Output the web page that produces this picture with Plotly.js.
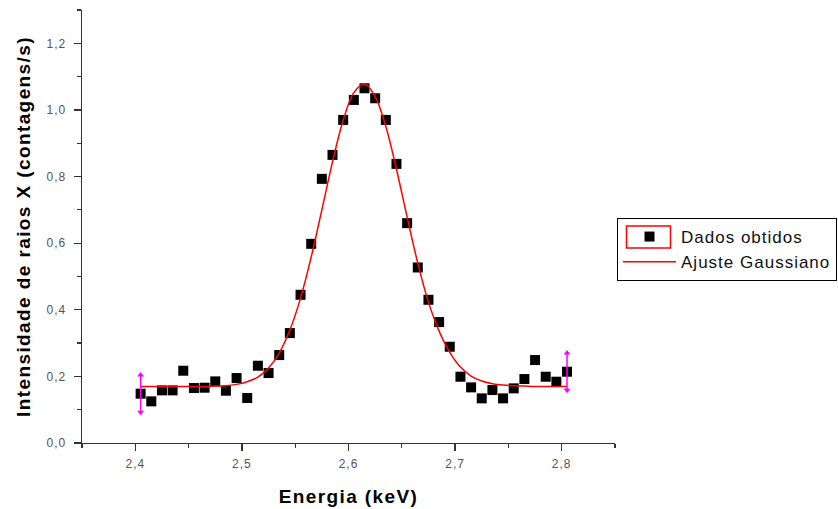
<!DOCTYPE html>
<html>
<head>
<meta charset="utf-8">
<script src="https://cdn.plot.ly/plotly-3.0.1.min.js"></script>
<style>
html,body{margin:0;padding:0;background:#fff;}
#chart{width:838px;height:509px;}
.legendtext{letter-spacing:1px;}
.xtitle,.ytitle{letter-spacing:1.4px;}
.xtick text,.ytick text{letter-spacing:1px;}
</style>
</head>
<body>
<div id="chart"></div>
<script>
// Energy (keV) of each measured point
const energia = [2.405, 2.415, 2.425, 2.435, 2.445, 2.455, 2.465, 2.475, 2.485, 2.495,
                 2.505, 2.515, 2.525, 2.535, 2.545, 2.555, 2.565, 2.575, 2.585, 2.595,
                 2.605, 2.615, 2.625, 2.635, 2.645, 2.655, 2.665, 2.675, 2.685, 2.695,
                 2.705, 2.715, 2.725, 2.735, 2.745, 2.755, 2.765, 2.775, 2.785, 2.795, 2.805];
// Measured intensity (contagens/s)
const dadosObtidos = [0.148, 0.125, 0.158, 0.158, 0.217, 0.165, 0.166, 0.185, 0.157, 0.195,
                      0.135, 0.232, 0.210, 0.264, 0.330, 0.445, 0.598, 0.793, 0.865, 0.970,
                      1.030, 1.065, 1.035, 0.970, 0.838, 0.660, 0.527, 0.430, 0.363, 0.289,
                      0.199, 0.167, 0.134, 0.159, 0.134, 0.164, 0.192, 0.249, 0.199, 0.184, 0.214];
// Gaussian fit curve read at the same energies
const ajusteGaussiano = [0.170, 0.170, 0.170, 0.170, 0.170, 0.170, 0.170, 0.171, 0.172, 0.176,
                         0.184, 0.198, 0.225, 0.270, 0.339, 0.435, 0.558, 0.700, 0.844, 0.969,
                         1.052, 1.078, 1.040, 0.950, 0.822, 0.678, 0.540, 0.423, 0.336, 0.272,
                         0.228, 0.201, 0.186, 0.178, 0.174, 0.172, 0.171, 0.170, 0.170, 0.170, 0.170];
const legendNames = ["Dados obtidos", "Ajuste Gaussiano"];
const xTitle = "Energia (keV)";
const yTitle = "Intensidade de raios X (contagens/s)";

const traces = [
  {x: energia, y: dadosObtidos, type: "scatter", mode: "markers", name: legendNames[0],
   marker: {symbol: "square", size: 10, color: "#000000"}},
  {x: energia, y: ajusteGaussiano, type: "scatter", mode: "lines", name: legendNames[1],
   line: {color: "#ff0000", width: 1.5, shape: "spline"}}
];
// Range markers (magenta double arrows) at the first and last data points
const half = 0.056;
[0, energia.length - 1].forEach(i => {
  traces.push({x: [energia[i], energia[i]], y: [dadosObtidos[i] - half, dadosObtidos[i] + half],
    type: "scatter", mode: "lines+markers", showlegend: false, hoverinfo: "skip",
    line: {color: "#ff00ff", width: 1.5},
    marker: {symbol: ["triangle-down", "triangle-up"], size: 6, color: "#ff00ff"}});
});

const tickFont = {family: "Liberation Sans, Arial, sans-serif", size: 12, color: "#555555"};
const titleFont = {family: "Liberation Sans, Arial, sans-serif", size: 19, color: "#000000", weight: "bold"};
const axisCommon = {
  showline: true, linecolor: "#333333", linewidth: 1.3, mirror: false,
  ticks: "outside", ticklen: 7, tickwidth: 1.3, tickcolor: "#333333",
  showgrid: false, zeroline: false, tickformat: ".1f", tickfont: tickFont
};

const layout = {
  width: 838, height: 509,
  margin: {l: 82, r: 223, t: 10, b: 66, autoexpand: false},
  paper_bgcolor: "#ffffff", plot_bgcolor: "#ffffff",
  separators: ",.",
  showlegend: true,
  xaxis: Object.assign({}, axisCommon, {
    range: [2.35, 2.85], tick0: 2.4, dtick: 0.1, ticklabelstandoff: 2,
    minor: {dtick: 0.05, ticks: "outside", ticklen: 4, tickcolor: "#333333", tickwidth: 1.2},
    title: {text: xTitle, standoff: 20, font: titleFont}
  }),
  yaxis: Object.assign({}, axisCommon, {
    range: [0, 1.3], tick0: 0, dtick: 0.2, ticklabelstandoff: 5,
    minor: {dtick: 0.1, ticks: "outside", ticklen: 4, tickcolor: "#333333", tickwidth: 1.2},
    title: {text: yTitle, standoff: 11, font: titleFont}
  }),
  legend: {
    x: 1.0038, y: 0.5196, xanchor: "left", yanchor: "top",
    bordercolor: "#000000", borderwidth: 1, bgcolor: "rgba(0,0,0,0)",
    itemwidth: 53,
    font: {family: "Liberation Sans, Arial, sans-serif", size: 17, color: "#111111"}
  },
  shapes: [
    {type: "rect", xref: "paper", yref: "paper", x0: 1.0216, x1: 1.1041, y0: 0.4503, y1: 0.5012,
     line: {color: "#ff0000", width: 1.5}, fillcolor: "rgba(0,0,0,0)", layer: "above"}
  ]
};

Plotly.newPlot("chart", traces, layout, {displayModeBar: false, staticPlot: true});
</script>
</body>
</html>
